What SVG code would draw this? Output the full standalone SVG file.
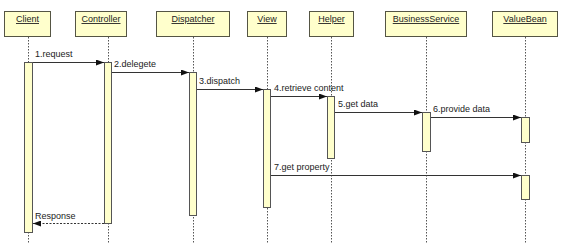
<svg xmlns="http://www.w3.org/2000/svg" width="564" height="244" viewBox="0 0 564 244">
<style>
.hdr{fill:#ffffcc;stroke:#555544;stroke-width:1}
.act{fill:#ffffcc;stroke:#555555;stroke-width:1}
.life{stroke:#555555;stroke-width:1;stroke-dasharray:1.5 1.5;fill:none}
.msg{stroke:#333333;stroke-width:1;fill:none}
.ret{stroke:#333333;stroke-width:1;fill:none;stroke-dasharray:2 1.5}
.name{font-family:"Liberation Sans",Arial,sans-serif;font-size:9px;fill:#222222;text-anchor:middle;text-decoration:underline}
.lbl{font-family:"Liberation Sans",Arial,sans-serif;font-size:9px;fill:#222222}
</style>
<defs>
<marker id="ah" markerWidth="8" markerHeight="6" refX="8" refY="3" orient="auto" markerUnits="userSpaceOnUse">
<path d="M0,0 L8,3 L0,6 Z" fill="#111111"/>
</marker>
</defs>
<rect width="564" height="244" fill="#ffffff"/>
<g id="client">
<rect class="hdr" x="4.5" y="11.5" width="46" height="25"/>
<text class="name" x="27.5" y="22">Client</text>
<line class="life" x1="28.5" y1="37" x2="28.5" y2="244"/>
<rect class="act" x="24.5" y="62.5" width="8" height="170"/>
</g>
<g id="controller">
<rect class="hdr" x="75.5" y="11.5" width="51" height="25"/>
<text class="name" x="101" y="22">Controller</text>
<line class="life" x1="108.5" y1="37" x2="108.5" y2="244"/>
<rect class="act" x="104.5" y="62.5" width="7" height="161"/>
</g>
<g id="dispatcher">
<rect class="hdr" x="156.5" y="11.5" width="73" height="25"/>
<text class="name" x="193" y="22">Dispatcher</text>
<line class="life" x1="193.5" y1="37" x2="193.5" y2="244"/>
<rect class="act" x="189.5" y="72.5" width="7" height="143"/>
</g>
<g id="view">
<rect class="hdr" x="247.5" y="11.5" width="39" height="25"/>
<text class="name" x="267" y="22">View</text>
<line class="life" x1="267.5" y1="37" x2="267.5" y2="244"/>
<rect class="act" x="263.5" y="89.5" width="7" height="118"/>
</g>
<g id="helper">
<rect class="hdr" x="309.5" y="11.5" width="44" height="25"/>
<text class="name" x="331.5" y="22">Helper</text>
<line class="life" x1="331.5" y1="37" x2="331.5" y2="244"/>
<rect class="act" x="327.5" y="96.5" width="7" height="62"/>
</g>
<g id="businessservice">
<rect class="hdr" x="385.5" y="11.5" width="81" height="25"/>
<text class="name" x="426" y="22">BusinessService</text>
<line class="life" x1="426.5" y1="37" x2="426.5" y2="244"/>
<rect class="act" x="422.5" y="112.5" width="8" height="39"/>
</g>
<g id="valuebean">
<rect class="hdr" x="492.5" y="11.5" width="65" height="25"/>
<text class="name" x="525" y="22">ValueBean</text>
<line class="life" x1="525.5" y1="37" x2="525.5" y2="244"/>
<rect class="act" x="521.5" y="117.5" width="8" height="25"/>
<rect class="act" x="521.5" y="175.5" width="8" height="24"/>
</g>
<g id="connectors">
<line class="msg" x1="33" y1="62.5" x2="104" y2="62.5" marker-end="url(#ah)"/>
<text class="lbl" x="35" y="57">1.request</text>
<line class="msg" x1="112" y1="72.5" x2="189" y2="72.5" marker-end="url(#ah)"/>
<text class="lbl" x="114" y="67">2.delegete</text>
<line class="msg" x1="197" y1="89.5" x2="263" y2="89.5" marker-end="url(#ah)"/>
<text class="lbl" x="199" y="84">3.dispatch</text>
<line class="msg" x1="271" y1="96.5" x2="327" y2="96.5" marker-end="url(#ah)"/>
<text class="lbl" x="274" y="91">4.retrieve content</text>
<line class="msg" x1="335" y1="112.5" x2="422" y2="112.5" marker-end="url(#ah)"/>
<text class="lbl" x="338" y="107">5.get data</text>
<line class="msg" x1="431" y1="117.5" x2="521" y2="117.5" marker-end="url(#ah)"/>
<text class="lbl" x="433" y="112">6.provide data</text>
<line class="msg" x1="271" y1="175.5" x2="521" y2="175.5" marker-end="url(#ah)"/>
<text class="lbl" x="274" y="170">7.get property</text>
<line class="ret" x1="104" y1="223.5" x2="33" y2="223.5" marker-end="url(#ah)"/>
<text class="lbl" x="35" y="219">Response</text>
</g>
</svg>
